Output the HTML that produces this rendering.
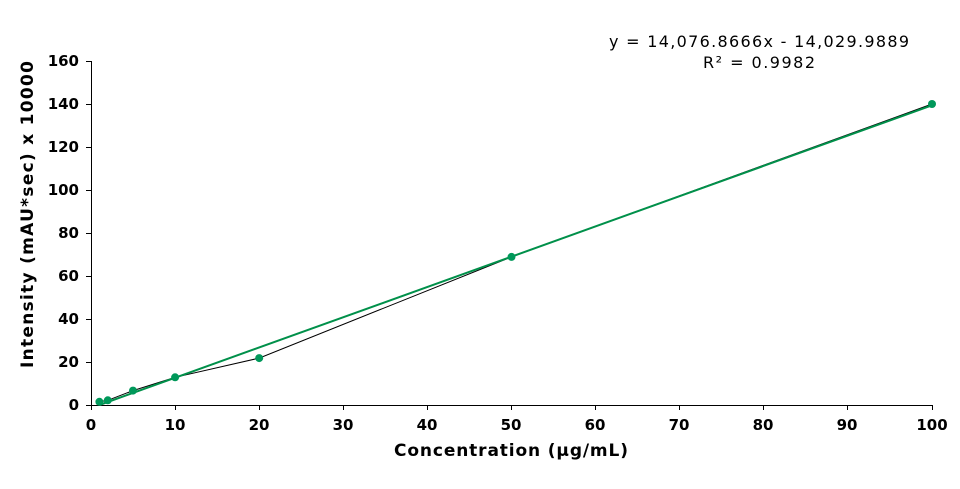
<!DOCTYPE html>
<html><head><style>body{margin:0;background:#fff}svg{display:block}</style></head><body>
<svg width="960" height="489" xmlns="http://www.w3.org/2000/svg" font-family="'DejaVu Sans','Liberation Sans',sans-serif">
<g stroke="#000" stroke-width="1">
<line x1="91.5" y1="61" x2="91.5" y2="405"/>
<line x1="91" y1="405.5" x2="932" y2="405.5"/>
<line x1="86" y1="61.5" x2="91" y2="61.5"/><line x1="86" y1="104.5" x2="91" y2="104.5"/><line x1="86" y1="147.5" x2="91" y2="147.5"/><line x1="86" y1="190.5" x2="91" y2="190.5"/><line x1="86" y1="233.5" x2="91" y2="233.5"/><line x1="86" y1="276.5" x2="91" y2="276.5"/><line x1="86" y1="319.5" x2="91" y2="319.5"/><line x1="86" y1="362.5" x2="91" y2="362.5"/><line x1="86" y1="405.5" x2="91" y2="405.5"/>
<line x1="91.5" y1="405" x2="91.5" y2="410"/><line x1="175.5" y1="405" x2="175.5" y2="410"/><line x1="259.5" y1="405" x2="259.5" y2="410"/><line x1="343.5" y1="405" x2="343.5" y2="410"/><line x1="427.5" y1="405" x2="427.5" y2="410"/><line x1="511.5" y1="405" x2="511.5" y2="410"/><line x1="595.5" y1="405" x2="595.5" y2="410"/><line x1="679.5" y1="405" x2="679.5" y2="410"/><line x1="763.5" y1="405" x2="763.5" y2="410"/><line x1="847.5" y1="405" x2="847.5" y2="410"/><line x1="932.5" y1="405" x2="932.5" y2="410"/>
</g>
<g font-size="15" font-weight="bold" text-anchor="end">
<text x="79" y="66">160</text><text x="79" y="109">140</text><text x="79" y="152">120</text><text x="79" y="195">100</text><text x="79" y="238">80</text><text x="79" y="281">60</text><text x="79" y="324">40</text><text x="79" y="367">20</text><text x="79" y="410">0</text>
</g>
<g font-size="15" font-weight="bold" text-anchor="middle">
<text x="91" y="430">0</text><text x="175" y="430">10</text><text x="259" y="430">20</text><text x="343" y="430">30</text><text x="427" y="430">40</text><text x="511" y="430">50</text><text x="595" y="430">60</text><text x="679" y="430">70</text><text x="763" y="430">80</text><text x="847" y="430">90</text><text x="932" y="430">100</text>
</g>
<text x="394" y="456" font-size="17" font-weight="bold" textLength="234" lengthAdjust="spacing">Concentration (µg/mL)</text>
<text transform="translate(33,368) rotate(-90)" font-size="17" font-weight="bold" textLength="307" lengthAdjust="spacing">Intensity (mAU*sec) x 10000</text>
<polyline fill="none" stroke="#000" stroke-width="1" points="99.4,401.8 107.8,400.3 133,390.6 175.1,377.3 259.2,358.1 511.5,256.9 932,104"/>
<line x1="99.4" y1="405" x2="932" y2="105.3" stroke="#00904a" stroke-width="2"/>
<g fill="#00985a">
<circle cx="99.4" cy="401.8" r="4"/><circle cx="107.8" cy="400.3" r="4"/><circle cx="133" cy="390.6" r="4"/><circle cx="175.1" cy="377.3" r="4"/><circle cx="259.2" cy="358.1" r="4"/><circle cx="511.5" cy="256.9" r="4"/><circle cx="932" cy="104" r="4"/>
</g>
<text x="609" y="47" font-size="16" textLength="300" lengthAdjust="spacing">y = 14,076.8666x - 14,029.9889</text>
<text x="703" y="68" font-size="16" textLength="112" lengthAdjust="spacing">R² = 0.9982</text>
</svg>
</body></html>
